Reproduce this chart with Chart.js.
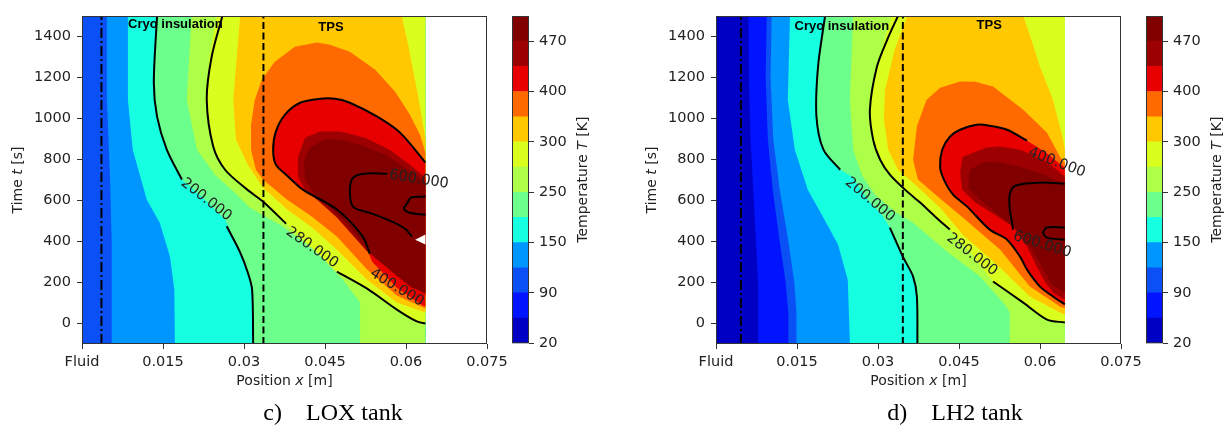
<!DOCTYPE html>
<html>
<head>
<meta charset="utf-8">
<title>Tank wall temperature</title>
<script src="https://cdn.jsdelivr.net/npm/chart.js@4.4.1/dist/chart.umd.min.js"></script>
<style>
  body { margin: 0; background: #fff; }
  #wrap { position: relative; width: 1228px; height: 427px; overflow: hidden; }
  canvas { position: absolute; top: 0; }
  .cap { position: absolute; top: 399px; width: 300px; text-align: center; font-family: 'Liberation Serif', serif; font-size: 24px; line-height: 26px; color: #000; white-space: pre; }
</style>
</head>
<body>
<div id="wrap">
  <canvas id="loxChart" width="530" height="400" style="left:0"></canvas>
  <canvas id="loxBar" width="114" height="400" style="left:500px"></canvas>
  <canvas id="h2Chart" width="530" height="400" style="left:634px"></canvas>
  <canvas id="h2Bar" width="114" height="400" style="left:1134px"></canvas>
  <div class="cap" style="left:183px">c)    LOX tank</div>
  <div class="cap" style="left:805px">d)    LH2 tank</div>
</div>
<script>
// 축 눈금
const xTicks = [0, 0.015, 0.03, 0.045, 0.06, 0.075];
const xTickLabels = ['Fluid', '0.015', '0.03', '0.045', '0.06', '0.075'];
const yTicks = [0, 200, 400, 600, 800, 1000, 1200, 1400];

// 등온 구간 (K) 과 색
const levels = [20, 55, 90, 120, 150, 200, 250, 280, 300, 350, 400, 435, 470, 500];
const levelColors = ['#0000c4', '#0014ff', '#0a50f5', '#0096ff', '#16ffe1', '#6cff8c', '#aeff48',
                     '#daff1e', '#ffc800', '#ff6a00', '#e80000', '#9c0000', '#800000'];
const cbarTicks = [20, 90, 150, 250, 300, 400, 470];

// LOX 탱크: 각 온도 이상 영역 [x(m), t(s)]
const lox90 = [[0, -100], [0, 1500], [0.0636, 1500], [0.0636, -100]];
const lox120 = [[0.0046, 1500], [0.0046, 1100], [0.0052, 700], [0.0055, 400], [0.0055, -100], [0.0636, -100], [0.0636, 1500]];
const lox150 = [[0.0085, 1500], [0.0085, 1092], [0.0094, 848], [0.012, 604], [0.0144, 492], [0.0163, 326], [0.0171, 166], [0.0172, -100], [0.0636, -100], [0.0636, 1500]];
const lox200 = [[0.0139, 1500], [0.0133, 1174], [0.0139, 1009], [0.0157, 848], [0.0185, 702], [0.0228, 604], [0.0265, 507], [0.0293, 346], [0.0307, 249], [0.0315, 166], [0.0317, -100], [0.0636, -100], [0.0636, 1500]];
const lox250 = [[0.0203, 1500], [0.0194, 1092], [0.0213, 848], [0.0246, 726], [0.0283, 638], [0.0311, 565], [0.0372, 473], [0.0435, 346], [0.0483, 214], [0.0515, 102], [0.0515, -100], [0.0636, -100], [0.0636, 1500]];
const lox280 = [[0.025, 1500], [0.0236, 1300], [0.0229, 1092], [0.0243, 863], [0.0265, 750], [0.0306, 653], [0.0335, 595], [0.038, 482], [0.0426, 370], [0.0472, 253], [0.0528, 170], [0.0583, 68], [0.062, 10], [0.0636, 0], [0.0636, 1500]];
const lox300 = [[0.0293, 1500], [0.028, 1092], [0.0285, 897], [0.0307, 775], [0.0335, 663], [0.038, 556], [0.0426, 468], [0.0472, 361], [0.0528, 214], [0.0583, 102], [0.0636, 54], [0.0636, 897], [0.063, 994], [0.0622, 1116], [0.0613, 1238], [0.0604, 1360], [0.0592, 1500]];
const lox350 = [[0.0435, 1371], [0.0394, 1350], [0.0357, 1277], [0.0333, 1189], [0.032, 1092], [0.0313, 970], [0.0313, 848], [0.0322, 750], [0.0335, 702], [0.038, 604], [0.0426, 521], [0.0472, 424], [0.0528, 263], [0.0583, 136], [0.0636, 73], [0.0636, 833], [0.0626, 921], [0.0607, 1019], [0.058, 1131], [0.0543, 1238], [0.0496, 1326], [0.0459, 1360]];
const lox400 = [[0.0441, 1096], [0.0404, 1077], [0.0376, 1019], [0.0359, 936], [0.0354, 848], [0.0359, 775], [0.038, 721], [0.0409, 653], [0.0472, 556], [0.052, 424], [0.0537, 302], [0.0583, 175], [0.0631, 88], [0.0636, 83], [0.0636, 785], [0.0589, 931], [0.0546, 1010], [0.0496, 1077], [0.0469, 1096]];
const lox435 = [[0.0441, 936], [0.0413, 906], [0.04, 814], [0.04, 716], [0.0413, 653], [0.0441, 590], [0.0472, 517], [0.05, 434], [0.0528, 351], [0.057, 263], [0.0607, 190], [0.0636, 141], [0.0636, 711], [0.0607, 775], [0.057, 848], [0.0524, 906], [0.0478, 936]];
const lox470 = [[0.045, 897], [0.0422, 858], [0.0411, 789], [0.0413, 702], [0.0431, 629], [0.0459, 565], [0.0487, 497], [0.0515, 409], [0.0543, 322], [0.058, 239], [0.0611, 175], [0.0636, 151], [0.0636, 692], [0.0604, 750], [0.0561, 824], [0.0515, 872], [0.0478, 897]];
const loxGap = [[0.0617, 409], [0.0636, 434], [0.0636, 385]];

// LOX 등온선
const lox200LineA = [[0.0139, 1500], [0.0133, 1174], [0.0139, 1009], [0.0157, 848], [0.0185, 702]];
const lox200LineB = [[0.0268, 474], [0.0293, 346], [0.0307, 249], [0.0315, 166], [0.0317, -100]];
const lox280LineA = [[0.026, 1500], [0.024, 1300], [0.0231, 1092], [0.0243, 863], [0.0265, 750], [0.0306, 653], [0.0335, 595], [0.0378, 487]];
const lox280LineB = [[0.0472, 253], [0.0528, 170], [0.0583, 68], [0.062, 10], [0.0636, 0]];
const lox400Line = [[0.0636, 785], [0.0589, 931], [0.0546, 1010], [0.0496, 1077], [0.0469, 1096], [0.0441, 1096], [0.0404, 1077], [0.0376, 1019], [0.0359, 936], [0.0354, 848], [0.0359, 775], [0.038, 721], [0.0409, 653], [0.0472, 556], [0.052, 424], [0.0533, 340]];
const lox600LineA = [[0.0565, 731], [0.0522, 731], [0.0502, 711], [0.0496, 653], [0.0502, 570], [0.0537, 536], [0.057, 502], [0.0598, 463], [0.0611, 424]];
const lox600LineB = [[0.0636, 619], [0.0609, 614], [0.0602, 585], [0.0596, 560], [0.0607, 540], [0.0636, 530]];
const loxLabels = [['200.000', 0.023, 604, 38], ['280.000', 0.0426, 370, 35], ['400.000', 0.0583, 175, 31], ['600.000', 0.0624, 702, 9]];
const loxNotes = [['Cryo insulation', 0.0173, 1461], ['TPS', 0.0461, 1442]];
const loxDashDotX = 0.0036;
const loxWallX = 0.0336;

// LH2 탱크
const h2_20 = [[0, -100], [0, 1500], [0.0646, 1500], [0.0646, -100]];
const h2_55 = [[0.006, 1500], [0.0061, 1200], [0.0064, 900], [0.0069, 653], [0.0074, 400], [0.0078, 200], [0.0078, -100], [0.0646, -100], [0.0646, 1500]];
const h2_90 = [[0.0094, 1500], [0.0092, 1200], [0.0096, 900], [0.0105, 653], [0.0118, 400], [0.0129, 200], [0.0134, 50], [0.0134, -100], [0.0646, -100], [0.0646, 1500]];
const h2_120 = [[0.0103, 1500], [0.0101, 1200], [0.0106, 900], [0.0118, 653], [0.0134, 400], [0.0145, 200], [0.0149, 50], [0.0149, -100], [0.0646, -100], [0.0646, 1500]];
const h2_150 = [[0.0137, 1500], [0.0133, 1092], [0.0146, 848], [0.017, 653], [0.0196, 531], [0.0226, 385], [0.0244, 214], [0.0248, -100], [0.0646, -100], [0.0646, 1500]];
const h2_200 = [[0.0202, 1500], [0.0189, 1254], [0.0186, 1010], [0.0199, 848], [0.023, 750], [0.0252, 716], [0.0281, 604], [0.0307, 531], [0.0322, 468], [0.0346, 326], [0.0365, 229], [0.0372, 132], [0.0373, -100], [0.0646, -100], [0.0646, 1500]];
const h2_250 = [[0.0254, 1500], [0.0248, 1092], [0.0254, 848], [0.027, 726], [0.0294, 629], [0.0331, 546], [0.0365, 492], [0.0428, 350], [0.0489, 229], [0.0535, 93], [0.0544, 54], [0.0544, -100], [0.0646, -100], [0.0646, 1500]];
const h2_280 = [[0.0325, 1500], [0.0312, 1384], [0.0298, 1252], [0.0285, 1043], [0.0291, 897], [0.0304, 799], [0.0322, 726], [0.035, 653], [0.0378, 590], [0.0406, 521], [0.0433, 458], [0.0474, 336], [0.0513, 205], [0.0569, 102], [0.0613, 19], [0.0646, 5], [0.0646, 1500]];
const h2_300 = [[0.0354, 1500], [0.0331, 1335], [0.0313, 1140], [0.0311, 994], [0.0319, 848], [0.0337, 750], [0.0369, 677], [0.0415, 565], [0.0457, 433], [0.0526, 273], [0.0581, 132], [0.0637, 54], [0.0646, 44], [0.0646, 848], [0.0643, 897], [0.0624, 1092], [0.06, 1252], [0.0581, 1408], [0.0569, 1500]];
const h2_350 = [[0.0452, 1181], [0.0415, 1150], [0.039, 1092], [0.0372, 962], [0.0365, 799], [0.0374, 702], [0.0406, 629], [0.0457, 517], [0.0526, 361], [0.0581, 180], [0.0637, 83], [0.0646, 73], [0.0646, 785], [0.0637, 814], [0.0613, 931], [0.0569, 1043], [0.0513, 1156], [0.048, 1179]];
const h2_400 = [[0.0576, 892], [0.0539, 945], [0.0507, 965], [0.0483, 970], [0.0452, 945], [0.0433, 911], [0.0419, 848], [0.0415, 765], [0.0422, 702], [0.0439, 629], [0.0465, 570], [0.0507, 458], [0.0539, 409], [0.0563, 326], [0.0576, 263], [0.06, 180], [0.0624, 132], [0.0646, 93], [0.0646, 760], [0.0609, 838]];
const h2_435 = [[0.0501, 858], [0.0457, 814], [0.0452, 736], [0.0456, 653], [0.048, 590], [0.0507, 546], [0.055, 473], [0.0576, 375], [0.0594, 278], [0.0609, 205], [0.0624, 151], [0.0646, 117], [0.0646, 716], [0.0613, 789], [0.0563, 848], [0.0526, 863]];
const h2_470 = [[0.0498, 789], [0.047, 750], [0.0467, 663], [0.0489, 604], [0.0522, 531], [0.0557, 458], [0.0583, 370], [0.0604, 275], [0.0622, 190], [0.0646, 151], [0.0646, 677], [0.0609, 726], [0.0563, 765], [0.0526, 785]];

// LH2 등온선
const h2_200LineA = [[0.0202, 1500], [0.0189, 1254], [0.0186, 1010], [0.0199, 848], [0.023, 750]];
const h2_200LineB = [[0.0322, 468], [0.0346, 326], [0.0365, 229], [0.0372, 132], [0.0373, -100]];
const h2_280LineA = [[0.0337, 1500], [0.0317, 1384], [0.0298, 1252], [0.0285, 1043], [0.0291, 897], [0.0304, 799], [0.0322, 726], [0.035, 653], [0.0378, 590], [0.0406, 521], [0.0433, 458]];
const h2_280LineB = [[0.0513, 205], [0.0569, 102], [0.0613, 19], [0.0646, 5]];
const h2_400Line = [[0.0576, 892], [0.0539, 945], [0.0507, 965], [0.0483, 970], [0.0452, 945], [0.0433, 911], [0.0419, 848], [0.0415, 765], [0.0422, 702], [0.0439, 629], [0.0465, 570], [0.0507, 458], [0.0539, 409], [0.0563, 326], [0.0576, 263], [0.06, 180], [0.0624, 132], [0.0646, 93]];
const h2_600LineA = [[0.0646, 682], [0.06, 687], [0.0554, 672], [0.0544, 629], [0.0544, 556], [0.0548, 497], [0.055, 458]];
const h2_600LineB = [[0.0646, 468], [0.0613, 468], [0.0606, 443], [0.0613, 419], [0.0646, 409]];
const h2Labels = [['200.000', 0.0285, 604, 40], ['280.000', 0.0474, 336, 38], ['400.000', 0.0631, 785, 21], ['600.000', 0.0604, 385, 17]];
const h2Notes = [['Cryo insulation', 0.0233, 1447], ['TPS', 0.0506, 1452]];
const h2DashDotX = 0.0046;
const h2WallX = 0.0346;

const FONT = 'DejaVu Sans';
const TEXT = '#222';

function toXY(pts) {
  return pts.map(function(p) { return {x: p[0], y: p[1]}; });
}

function colorOf(level) {
  return level === null ? '#ffffff' : levelColors[levels.indexOf(level)];
}

// 글자 일부만 기울임
function drawRich(ctx, parts, x, y, angle, size) {
  ctx.save();
  ctx.translate(x, y);
  ctx.rotate(angle);
  ctx.fillStyle = TEXT;
  ctx.textBaseline = 'middle';
  ctx.textAlign = 'left';
  let total = 0;
  const fonts = parts.map(function(p) { return (p[1] ? 'italic ' : '') + size + 'px "' + FONT + '"'; });
  parts.forEach(function(p, i) { ctx.font = fonts[i]; total += ctx.measureText(p[0]).width; });
  let cx = -total / 2;
  parts.forEach(function(p, i) {
    ctx.font = fonts[i];
    ctx.fillText(p[0], cx, 0);
    cx += ctx.measureText(p[0]).width;
  });
  ctx.restore();
}

function lineSet(pts, dash, width) {
  return {
    data: toXY(pts), showLine: true, fill: false,
    borderColor: '#000', borderWidth: width, borderDash: dash,
    pointRadius: 0, tension: dash.length ? 0 : 0.3, order: -1
  };
}

function makePanel(id, fills, lines, labels, notes, dashDotX, wallX) {
  const datasets = [];
  fills.forEach(function(f, i) {
    datasets.push({
      data: toXY(f[1]), showLine: true, fill: 'shape',
      backgroundColor: colorOf(f[0]), borderWidth: 0, pointRadius: 0,
      tension: 0, order: 100 - i
    });
  });
  lines.forEach(function(l) { datasets.push(lineSet(l, [], 2)); });
  datasets.push(lineSet([[dashDotX, -100], [dashDotX, 1500]], [10, 3, 2, 3], 2));
  datasets.push(lineSet([[wallX, -100], [wallX, 1500]], [7, 3.5], 2));

  const textPlugin = {
    id: 'panelText',
    afterDatasetsDraw(chart) {
      const ctx = chart.ctx, xs = chart.scales.x, ys = chart.scales.y;
      labels.forEach(function(l) {
        drawRich(ctx, [[l[0], false]], xs.getPixelForValue(l[1]), ys.getPixelForValue(l[2]), l[3] * Math.PI / 180, 14.5);
      });
      ctx.save();
      ctx.fillStyle = '#000';
      ctx.font = 'bold 13px "Liberation Sans"';
      ctx.textAlign = 'center';
      ctx.textBaseline = 'middle';
      notes.forEach(function(n) {
        ctx.fillText(n[0], xs.getPixelForValue(n[1]), ys.getPixelForValue(n[2]));
      });
      ctx.restore();
    },
    afterDraw(chart) {
      const ctx = chart.ctx, a = chart.chartArea;
      ctx.save();
      ctx.strokeStyle = '#333';
      ctx.lineWidth = 1;
      ctx.strokeRect(a.left + 0.5, a.top + 0.5, a.right - a.left - 1, a.bottom - a.top - 1);
      ctx.restore();
      drawRich(ctx, [['Time ', false], ['t', true], [' [s]', false]], 18, (a.top + a.bottom) / 2, -Math.PI / 2, 14);
      drawRich(ctx, [['Position ', false], ['x', true], [' [m]', false]], (a.left + a.right) / 2, 381.5, 0, 14);
    }
  };

  return new Chart(document.getElementById(id), {
    type: 'scatter',
    data: {datasets: datasets},
    options: {
      responsive: false, animation: false, events: [],
      layout: {padding: {left: 0, right: 43, top: 16, bottom: 0}},
      plugins: {legend: {display: false}, tooltip: {enabled: false}},
      scales: {
        x: {
          type: 'linear', min: 0, max: 0.075,
          afterBuildTicks: function(s) { s.ticks = xTicks.map(function(v) { return {value: v}; }); },
          afterFit: function(s) { s.height = 56; },
          ticks: {callback: function(v, i) { return xTickLabels[i]; }, color: TEXT, font: {family: FONT, size: 14.5}, padding: 5, maxRotation: 0, autoSkip: false},
          grid: {drawOnChartArea: false, tickLength: 5, color: '#333'},
          border: {display: false}
        },
        y: {
          type: 'linear', min: -100, max: 1500,
          afterBuildTicks: function(s) { s.ticks = yTicks.map(function(v) { return {value: v}; }); },
          afterFit: function(s) { s.width = 82; },
          ticks: {callback: function(v) { return String(v); }, color: TEXT, font: {family: FONT, size: 14.5}, padding: 6, autoSkip: false},
          grid: {drawOnChartArea: false, tickLength: 5, color: '#333'},
          border: {display: false}
        }
      }
    },
    plugins: [textPlugin]
  });
}

function makeColorbar(id) {
  const framePlugin = {
    id: 'cbarFrame',
    afterDraw(chart) {
      const ctx = chart.ctx, a = chart.chartArea;
      ctx.save();
      ctx.strokeStyle = '#333';
      ctx.lineWidth = 1;
      ctx.strokeRect(a.left + 0.5, a.top + 0.5, a.right - a.left - 1, a.bottom - a.top - 1);
      ctx.restore();
      drawRich(ctx, [['Temperature ', false], ['T', true], [' [K]', false]], 83, (a.top + a.bottom) / 2, -Math.PI / 2, 14);
    }
  };
  return new Chart(document.getElementById(id), {
    type: 'bar',
    data: {
      labels: [''],
      datasets: levelColors.map(function(c, i) {
        return {data: [[i, i + 1]], backgroundColor: c, grouped: false, barPercentage: 1, categoryPercentage: 1, borderWidth: 0};
      })
    },
    options: {
      responsive: false, animation: false, events: [],
      layout: {padding: {left: 12, right: 25, top: 16, bottom: 56.7}},
      plugins: {legend: {display: false}, tooltip: {enabled: false}},
      scales: {
        x: {display: false},
        y: {
          position: 'right', min: 0, max: levels.length - 1,
          afterBuildTicks: function(s) { s.ticks = cbarTicks.map(function(v) { return {value: levels.indexOf(v)}; }); },
          afterFit: function(s) { s.width = 60; },
          ticks: {callback: function(v) { return String(levels[v]); }, color: TEXT, font: {family: FONT, size: 14.5}, padding: 5},
          grid: {drawOnChartArea: false, tickLength: 5, color: '#333'},
          border: {display: false}
        }
      }
    },
    plugins: [framePlugin]
  });
}

makePanel('loxChart',
  [[90, lox90], [120, lox120], [150, lox150], [200, lox200], [250, lox250], [280, lox280],
   [300, lox300], [350, lox350], [400, lox400], [435, lox435], [470, lox470], [null, loxGap]],
  [lox200LineA, lox200LineB, lox280LineA, lox280LineB, lox400Line, lox600LineA, lox600LineB],
  loxLabels, loxNotes, loxDashDotX, loxWallX);
makeColorbar('loxBar');

makePanel('h2Chart',
  [[20, h2_20], [55, h2_55], [90, h2_90], [120, h2_120], [150, h2_150], [200, h2_200], [250, h2_250],
   [280, h2_280], [300, h2_300], [350, h2_350], [400, h2_400], [435, h2_435], [470, h2_470]],
  [h2_200LineA, h2_200LineB, h2_280LineA, h2_280LineB, h2_400Line, h2_600LineA, h2_600LineB],
  h2Labels, h2Notes, h2DashDotX, h2WallX);
makeColorbar('h2Bar');
</script>
</body>
</html>
